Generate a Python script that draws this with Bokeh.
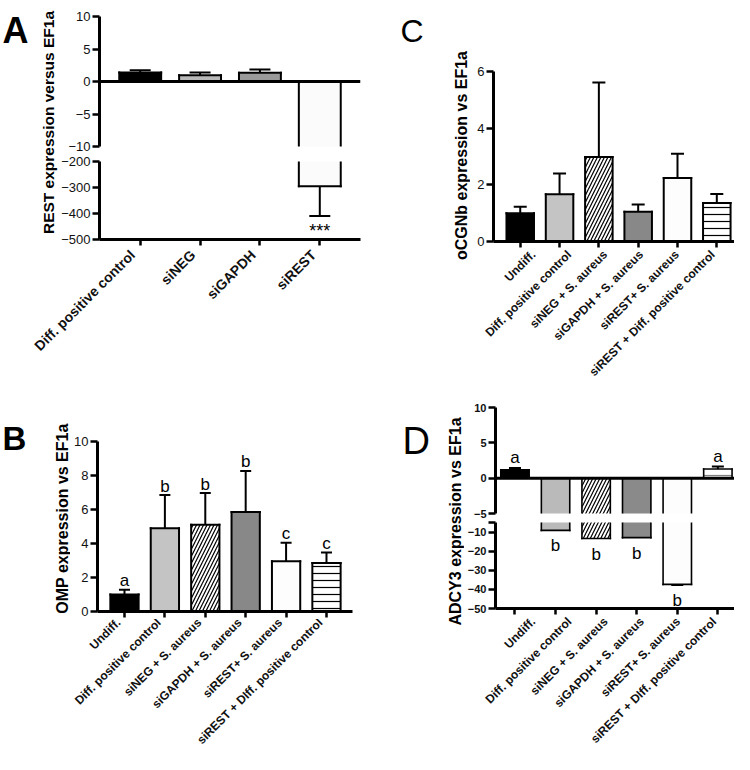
import math
from bokeh.plotting import figure
from bokeh.models import Range1d, FixedTicker, Span, Label, ColumnDataSource
from bokeh.layouts import row, column
from bokeh.embed import file_html
from bokeh.resources import INLINE
from bokeh.core.properties import value

FONT = "Liberation Sans"

# ---------------- data ----------------
a_cats = ["Diff. positive control", "siNEG", "siGAPDH", "siREST"]
a_vals = [1.4, 0.95, 1.35, -295]
a_err = [1.75, 1.4, 1.85, -410]
a_colors = ["#000000", "#b8b8b8", "#9a9a9a", "#fbfbfb"]
a_hatch = [" ", " ", " ", " "]
a_marks = ["", "", "", "***"]

cats6 = ["Undiff.", "Diff. positive control", "siNEG + S. aureus",
         "siGAPDH + S. aureus", "siREST+ S. aureus", "siREST + DIff. positive control"]
cats6_c = ["Undiff.", "Diff. positive control", "siNEG + S. aureus",
           "siGAPDH + S. aureus", "siREST+ S. aureus", "siREST + Diff. positive control"]
six_colors = ["#000000", "#c4c4c4", "#ffffff", "#888888", "#fdfdfd", "#ffffff"]
six_hatch = [" ", " ", "/", " ", " ", "-"]
d_colors = ["#000000", "#bababa", "#ffffff", "#8a8a8a", "#fdfdfd", "#ffffff"]
d_hatch_color = ["black", "black", "black", "black", "black", "#808080"]

b_vals = [1.0, 4.9, 5.1, 5.85, 2.95, 2.85]
b_err = [1.28, 6.85, 6.97, 8.27, 4.05, 3.47]
b_letters = ["a", "b", "b", "b", "c", "c"]

c_vals = [1.0, 1.67, 2.98, 1.05, 2.24, 1.36]
c_err = [1.23, 2.4, 5.61, 1.31, 3.1, 1.68]

d_vals = [1.2, -9.1, -13.4, -12.9, -37.4, 1.3]
d_err = [1.45, -9.1, -13.4, -12.9, -37.7, 1.65]
d_letters = ["a", "b", "b", "b", "b", "a"]


# ---------------- helpers ----------------
def base_fig(w, h, xr, yr, l, r, t, b, xaxis=True):
    p = figure(width=w, height=h, x_range=xr, y_range=yr,
               toolbar_location=None, output_backend="svg",
               min_border_left=l, min_border_right=r,
               min_border_top=t, min_border_bottom=b,
               x_axis_location="below" if xaxis else None)
    p.xgrid.visible = False
    p.ygrid.visible = False
    p.outline_line_color = None
    p.border_fill_color = "white"
    p.background_fill_color = "white"
    return p


def style_y(p, ticks, size="13px", bold=False, overrides=None):
    ax = p.yaxis[0]
    ax.ticker = FixedTicker(ticks=ticks)
    ax.axis_line_width = 3
    ax.axis_line_color = "black"
    ax.major_tick_line_width = 2.5
    ax.major_tick_out = 7
    ax.major_tick_in = 0
    ax.minor_tick_line_color = None
    ax.major_label_standoff = 2
    ax.major_label_text_font = FONT
    ax.major_label_text_font_size = size
    ax.major_label_text_font_style = "bold" if bold else "normal"
    ax.major_label_text_color = "#111111"
    if overrides:
        ax.major_label_overrides = overrides


def style_x_ticks(p, n):
    ax = p.xaxis[0]
    ax.ticker = FixedTicker(ticks=list(range(n)))
    ax.major_label_overrides = {i: "" for i in range(n)}
    ax.major_label_text_font_size = "0px"
    ax.major_label_standoff = 0
    ax.axis_line_width = 3
    ax.axis_line_color = "black"
    ax.major_tick_line_width = 2.5
    ax.major_tick_out = 6
    ax.major_tick_in = 0
    ax.minor_tick_line_color = None


def label_fig(w, h, main, frame_l, frame_r, canvas_l, canvas_r, cats, size, standoff, shift):
    # strip below the plot: a bare category axis whose scale equals the main plot's
    s, e = main.x_range.start, main.x_range.end
    k = (e - s) / (frame_r - frame_l)
    xr = Range1d(s - (frame_l - canvas_l) * k + shift * k,
                 e + (canvas_r - frame_r) * k + shift * k)
    p = figure(width=w, height=h, x_range=xr, y_range=Range1d(0, 1),
               toolbar_location=None, output_backend="svg",
               x_axis_location="below", y_axis_location=None,
               min_border_left=0, min_border_right=0, min_border_top=0,
               min_border_bottom=h - 2)
    p.xgrid.visible = False
    p.ygrid.visible = False
    p.outline_line_color = None
    ax = p.xaxis[0]
    ax.ticker = FixedTicker(ticks=list(range(len(cats))))
    ax.major_label_overrides = {i: c for i, c in enumerate(cats)}
    ax.major_label_orientation = math.pi / 4
    ax.axis_line_color = None
    ax.major_tick_line_color = None
    ax.minor_tick_line_color = None
    ax.major_tick_out = 0
    ax.major_tick_in = 0
    ax.major_label_standoff = standoff
    ax.major_label_text_font = FONT
    ax.major_label_text_font_size = size
    ax.major_label_text_font_style = "bold"
    ax.major_label_text_color = "#111111"
    return p


def draw_bars(p, vals, errs, colors, hatches, hatch_colors=None, lw=2.0, cap=12, bw=0.7):
    lo, hi = p.y_range.start, p.y_range.end
    n = len(vals)
    hcols = hatch_colors if hatch_colors else ["black"] * n
    idx = [i for i in range(n) if max(0, vals[i]) >= lo and min(0, vals[i]) <= hi]
    if not idx:
        return
    src = ColumnDataSource(dict(x=idx, top=[vals[i] for i in idx],
                                color=[colors[i] for i in idx],
                                hatch=[hatches[i] for i in idx],
                                hcol=[hcols[i] for i in idx]))
    p.vbar(x="x", top="top", bottom=0, width=bw, source=src,
           fill_color="color", line_color=None,
           hatch_pattern="hatch", hatch_color="hcol", hatch_scale=7, hatch_weight=1.2)
    h = bw / 2
    sx0, sy0, sx1, sy1 = [], [], [], []
    for i in idx:
        for side in (-h, h):
            sx0.append(i + side); sy0.append(0); sx1.append(i + side); sy1.append(vals[i])
        for yv in (0, vals[i]):
            if lo <= yv <= hi:
                sx0.append(i - h); sy0.append(yv); sx1.append(i + h); sy1.append(yv)
    p.segment(x0=sx0, y0=sy0, x1=sx1, y1=sy1, line_color="black", line_width=lw,
              line_cap="square")
    eidx = [i for i in range(n) if errs[i] != vals[i]
            and max(vals[i], errs[i]) >= lo and min(vals[i], errs[i]) <= hi]
    if eidx:
        p.segment(x0=eidx, y0=[vals[i] for i in eidx], x1=eidx, y1=[errs[i] for i in eidx],
                  line_color="black", line_width=2)
    cidx = [i for i in eidx if lo <= errs[i] <= hi]
    if cidx:
        p.scatter(x=cidx, y=[errs[i] for i in cidx], marker="dash", size=cap,
                  line_color="black", line_width=2)


def add_letters(p, vals, errs, letters, size="17px", bold=False, up_off=-9, down_off=6):
    lo, hi = p.y_range.start, p.y_range.end
    up = [i for i in range(len(vals)) if letters[i] and vals[i] >= 0 and lo <= errs[i] <= hi]
    dn = [i for i in range(len(vals)) if letters[i] and vals[i] < 0 and lo <= errs[i] <= hi]
    style = "bold" if bold else "normal"
    if up:
        p.text(x=up, y=[errs[i] for i in up], text=[letters[i] for i in up],
               text_align="center", text_baseline="alphabetic", y_offset=up_off,
               text_font=value(FONT), text_font_size=size, text_font_style=style,
               text_color="black")
    if dn:
        p.text(x=dn, y=[errs[i] for i in dn], text=[letters[i] for i in dn],
               text_align="center", text_baseline="top", y_offset=down_off,
               text_font=value(FONT), text_font_size=size, text_font_style=style,
               text_color="black")


def canvas_label(p, x, y, text, size, bold=True, angle=0.0, align="left", baseline="alphabetic"):
    p.add_layout(Label(x=x, y=y, x_units="canvas", y_units="canvas", text=text,
                       angle=angle, text_font=FONT, text_font_size=size,
                       text_font_style="bold" if bold else "normal",
                       text_align=align, text_baseline=baseline, text_color="black"))


def side_fig(w, h):
    p = figure(width=w, height=h, x_range=Range1d(0, 1), y_range=Range1d(0, 1),
               toolbar_location=None, output_backend="svg",
               x_axis_location=None, y_axis_location=None, min_border=0)
    p.xgrid.visible = False
    p.ygrid.visible = False
    p.outline_line_color = None
    return p


# ---------------- Panel A ----------------
xa = (-0.68, 3.68)
a_top = base_fig(322, 153, Range1d(*xa), Range1d(-10, 10), 39, 20, 16, 7, xaxis=False)
style_y(a_top, [10, 5, 0, -5, -10])
a_top.add_layout(Span(location=0, dimension="width", line_color="black", line_width=3))
draw_bars(a_top, a_vals, a_err, a_colors, a_hatch, cap=21)

a_bot = base_fig(322, 94, Range1d(*xa), Range1d(-500, -200), 39, 20, 8, 8)
style_y(a_bot, [-200, -300, -400, -500])
style_x_ticks(a_bot, len(a_cats))
draw_bars(a_bot, a_vals, a_err, a_colors, a_hatch, cap=21)
add_letters(a_bot, a_vals, a_err, a_marks, size="18px", down_off=5)

a_lab = label_fig(380, 140, a_bot, 97, 360, 0, 380, a_cats, "14px", 3, 6)

a_side = side_fig(58, 247)
canvas_label(a_side, 2, 30, "A", "36px", bold=True)
canvas_label(a_side, 48, 122, "REST expression versus EF1a", "15.5px", bold=True,
             angle=math.pi / 2, align="center", baseline="middle")

# ---------------- Panel B ----------------
b = base_fig(310, 232, Range1d(-0.668, 5.644), Range1d(0, 10), 27, 28, 54, 8)
style_y(b, [0, 2, 4, 6, 8, 10])
style_x_ticks(b, len(cats6))
draw_bars(b, b_vals, b_err, six_colors, six_hatch, cap=11)
add_letters(b, b_vals, b_err, b_letters)
b_lab = label_fig(380, 135, b, 97, 352, 0, 380, cats6, "12px", 0, 6)
b_side = side_fig(70, 232)
canvas_label(b_side, 2, 51, "B", "33px", bold=True)
canvas_label(b_side, 62, 131, "OMP expression vs EF1a", "16px", bold=True,
             angle=math.pi / 2, align="center", baseline="middle")

# ---------------- Panel C ----------------
c = base_fig(264, 249, Range1d(-0.68, 5.45), Range1d(0, 6), 23, 0, 71, 8)
style_y(c, [0, 2, 4, 6])
style_x_ticks(c, len(cats6_c))
draw_bars(c, c_vals, c_err, six_colors, six_hatch, cap=13)
c_lab = label_fig(264, 138, c, 493, 734, 470, 734, cats6_c, "12px", 1, 6)
c_side = side_fig(90, 387)
canvas_label(c_side, 20, 30, "C", "32px", bold=False)
canvas_label(c_side, 81, 155, "oCGNb expression vs EF1a", "16px", bold=True,
             angle=math.pi / 2, align="center", baseline="middle")

# ---------------- Panel D ----------------
xd = (-0.48, 5.41)
d_top = base_fig(270, 132, Range1d(*xd), Range1d(-5, 10), 29, 0, 20, 6, xaxis=False)
style_y(d_top, [10, 5, 0, -5], size="11px", bold=True)
d_top.add_layout(Span(location=0, dimension="width", line_color="black", line_width=3))
draw_bars(d_top, d_vals, d_err, d_colors, six_hatch, hatch_colors=d_hatch_color, lw=1.6, cap=12)
add_letters(d_top, d_vals, d_err, d_letters, up_off=-10)

d_bot = base_fig(270, 97, Range1d(*xd), Range1d(-50, -5), 29, 0, 3, 8)
style_y(d_bot, [-5, -10, -20, -30, -40, -50], size="11px", bold=True, overrides={-5: ""})
style_x_ticks(d_bot, len(cats6))
draw_bars(d_bot, d_vals, d_err, d_colors, six_hatch, hatch_colors=d_hatch_color, lw=1.6, cap=12)
add_letters(d_bot, d_vals, d_err, d_letters, down_off=6)

d_lab = label_fig(270, 138, d_bot, 493, 734, 464, 734, cats6, "12px", 1, 6)

d_side = side_fig(84, 367)
canvas_label(d_side, 22, 53, "D", "38px", bold=False)
canvas_label(d_side, 75, 134, "ADCY3 expression vs EF1a", "16px", bold=True,
             angle=math.pi / 2, align="center", baseline="middle")

left = column(column(row(a_side, column(a_top, a_bot)), a_lab),
              column(row(b_side, column(b)), b_lab))
right = column(row(c_side, column(c, c_lab)),
               row(d_side, column(d_top, d_bot, d_lab)))
layout = row(left, right)

open("out.html", "w").write(file_html(layout, INLINE))
